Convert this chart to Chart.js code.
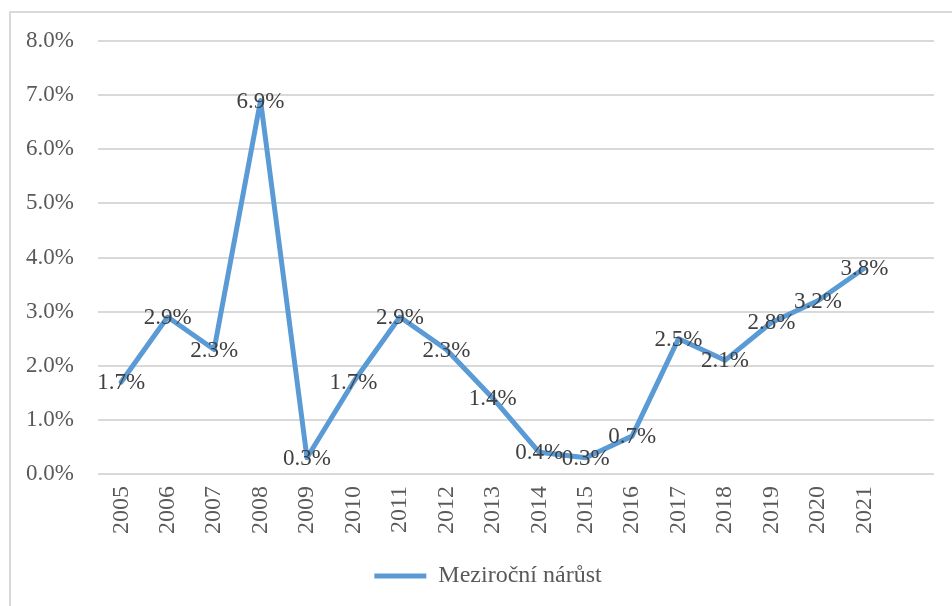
<!DOCTYPE html>
<html lang="cs">
<head>
    <meta charset="UTF-8">
    <title>Meziroční nárůst</title>
    <script src="https://cdn.jsdelivr.net/npm/chart.js"></script>
    <style>
        body {
            margin: 0;
            background: #ffffff;
        }
        /* light frame around the chart, like the exported office chart */
        .frame {
            position: absolute;
            left: 9px;
            top: 11px;
            width: 1000px;
            height: 700px;
            border-left: 2px solid #d9d9d9;
            border-top: 2px solid #d9d9d9;
        }
        .wrap {
            position: absolute;
            left: 0;
            top: 0;
            width: 952px;
            height: 606px;
        }
    </style>
</head>
<body>

<div class="frame"></div>
<div class="wrap">
    <canvas id="growthChart" width="952" height="606"></canvas>
</div>

<script>
    // data (percent)
    const years = ['2005', '2006', '2007', '2008', '2009', '2010', '2011', '2012', '2013',
                   '2014', '2015', '2016', '2017', '2018', '2019', '2020', '2021', ''];
    const growth = [1.7, 2.9, 2.3, 6.9, 0.3, 1.7, 2.9, 2.3, 1.4, 0.4, 0.3, 0.7, 2.5, 2.1, 2.8, 3.2, 3.8];
    const seriesName = 'Meziroční nárůst';
    const yMin = 0, yMax = 8, yStep = 1;

    const serif = "'Liberation Serif', 'Times New Roman', serif";
    Chart.defaults.font.family = serif;
    Chart.defaults.font.size = 23;
    Chart.defaults.color = '#595959';

    // value labels centred on each point
    const pointLabels = {
        id: 'pointLabels',
        afterDatasetsDraw(chart) {
            const ctx = chart.ctx;
            const meta = chart.getDatasetMeta(0);
            ctx.save();
            ctx.font = '23px ' + serif;
            ctx.fillStyle = '#404040';
            ctx.textAlign = 'center';
            ctx.textBaseline = 'middle';
            meta.data.forEach((pt, i) => {
                ctx.fillText(growth[i].toFixed(1) + '%', pt.x, pt.y + 1);
            });
            ctx.restore();
        }
    };

    // the office chart is wider than the picture, so its legend sits a bit right of centre
    const legendShift = {
        id: 'legendShift',
        afterLayout(chart) {
            if (chart.legend) {
                chart.legend.left += 16;
                chart.legend.right += 16;
            }
        }
    };

    new Chart(document.getElementById('growthChart'), {
        type: 'line',
        data: {
            labels: years,
            datasets: [{
                label: seriesName,
                data: growth,
                borderColor: '#5b9bd5',
                backgroundColor: '#5b9bd5',
                borderWidth: 5,
                pointRadius: 0,
                pointStyle: 'line',
                tension: 0,
                borderCapStyle: 'round',
                borderJoinStyle: 'round'
            }]
        },
        options: {
            responsive: false,
            animation: false,
            layout: {
                padding: { top: 41, left: 10, right: 18, bottom: 8 }
            },
            scales: {
                x: {
                    offset: true,
                    grid: { display: false },
                    border: { display: false },
                    ticks: {
                        minRotation: 90,
                        maxRotation: 90,
                        padding: 4,
                        color: '#595959',
                        autoSkip: false,
                        font: { size: 24 }
                    },
                    afterFit: (s) => { s.height = 80; }
                },
                y: {
                    min: yMin,
                    max: yMax,
                    ticks: {
                        stepSize: yStep,
                        padding: 24,
                        color: '#595959',
                        callback: (v) => v.toFixed(1) + '%'
                    },
                    grid: { color: '#d9d9d9', lineWidth: 2, drawTicks: false },
                    border: { display: false },
                    afterFit: (s) => { s.width = 88; }
                }
            },
            plugins: {
                legend: {
                    position: 'bottom',
                    labels: {
                        usePointStyle: true,
                        pointStyleWidth: 52,
                        color: '#595959',
                        padding: 10,
                        font: { size: 24 }
                    }
                },
                tooltip: { enabled: false }
            }
        },
        plugins: [pointLabels, legendShift]
    });
</script>

</body>
</html>
